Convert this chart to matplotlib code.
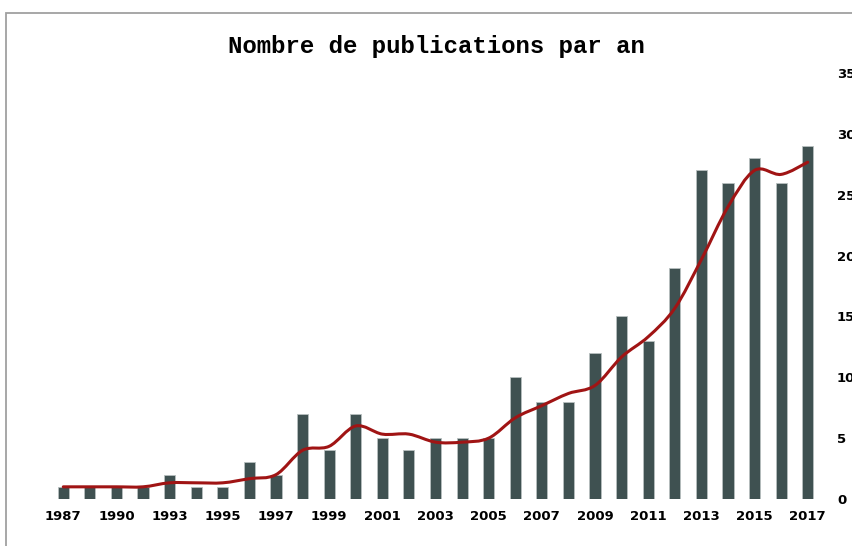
import matplotlib.pyplot as plt
from matplotlib.path import Path
from matplotlib.patches import PathPatch, Rectangle


# Data
years = [1987, 1988, 1990, 1991, 1993, 1994, 1995, 1996, 1997, 1998,
         1999, 2000, 2001, 2002, 2003, 2004, 2005, 2006, 2007, 2008,
         2009, 2010, 2011, 2012, 2013, 2014, 2015, 2016, 2017]
publications = [1, 1, 1, 1, 2, 1, 1, 3, 2, 7,
                4, 7, 5, 4, 5, 5, 5, 10, 8, 8,
                12, 15, 13, 19, 27, 26, 28, 26, 29]
trend = [1, 1, 1, 1, 1.33, 1.33, 1.33, 1.67, 2, 4,
         4.33, 6, 5.33, 5.33, 4.67, 4.67, 5, 6.67, 7.67, 8.67,
         9.33, 11.67, 13.33, 15.67, 19.67, 24, 27, 26.67, 27.67]
shown_years = [1987, 1990, 1993, 1995, 1997, 1999, 2001, 2003, 2005,
               2007, 2009, 2011, 2013, 2015, 2017]
y_ticks = [0, 5, 10, 15, 20, 25, 30, 35]

W, H = 853, 546
fig = plt.figure(figsize=(W / 100, H / 100), dpi=100)

# grey frame of the original chart (cut off on the right and bottom)
fig.patches.append(Rectangle((6 / W, -0.1), 1.2, 1.1 - 13 / H, transform=fig.transFigure,
                             fill=False, edgecolor='#a0a0a0', linewidth=1.3))

ax = fig.add_axes([50 / W, 47 / H, 771 / W, 426 / H])
x = list(range(len(years)))

ax.bar(x, publications, width=0.42, color='#3f5151', edgecolor='#b8c0c0', linewidth=0.6)

# smooth curve through the trend points (Catmull-Rom as cubic Bezier)
verts = [(x[0], trend[0])]
codes = [Path.MOVETO]
n = len(x)
for i in range(n - 1):
    p0 = (x[max(i - 1, 0)], trend[max(i - 1, 0)])
    p1 = (x[i], trend[i])
    p2 = (x[i + 1], trend[i + 1])
    p3 = (x[min(i + 2, n - 1)], trend[min(i + 2, n - 1)])
    c1 = (p1[0] + (p2[0] - p0[0]) / 6, p1[1] + (p2[1] - p0[1]) / 6)
    c2 = (p2[0] - (p3[0] - p1[0]) / 6, p2[1] - (p3[1] - p1[1]) / 6)
    verts += [c1, c2, p2]
    codes += [Path.CURVE4] * 3
ax.add_patch(PathPatch(Path(verts, codes), fill=False, edgecolor='#a01414',
                       linewidth=2.2, capstyle='round', zorder=3))

ax.set_xlim(-0.5, len(years) - 0.5)
ax.set_ylim(0, 35)

ax.set_xticks([years.index(y) for y in shown_years])
ax.set_xticklabels([str(y) for y in shown_years], fontsize=9.5, fontweight='bold')
ax.yaxis.tick_right()
ax.set_yticks(y_ticks)
ax.set_yticklabels([str(v) for v in y_ticks], fontsize=9.5, fontweight='bold')
ax.tick_params(axis='x', length=0, pad=8)
ax.tick_params(axis='y', length=0, pad=11.5)
for s in ax.spines.values():
    s.set_visible(False)

fig.text(436 / W, 1 - 46 / H, 'Nombre de publications par an', ha='center', va='center',
         fontsize=17.3, fontweight='bold', family='Liberation Mono')

fig.savefig('out.png', dpi=100)
